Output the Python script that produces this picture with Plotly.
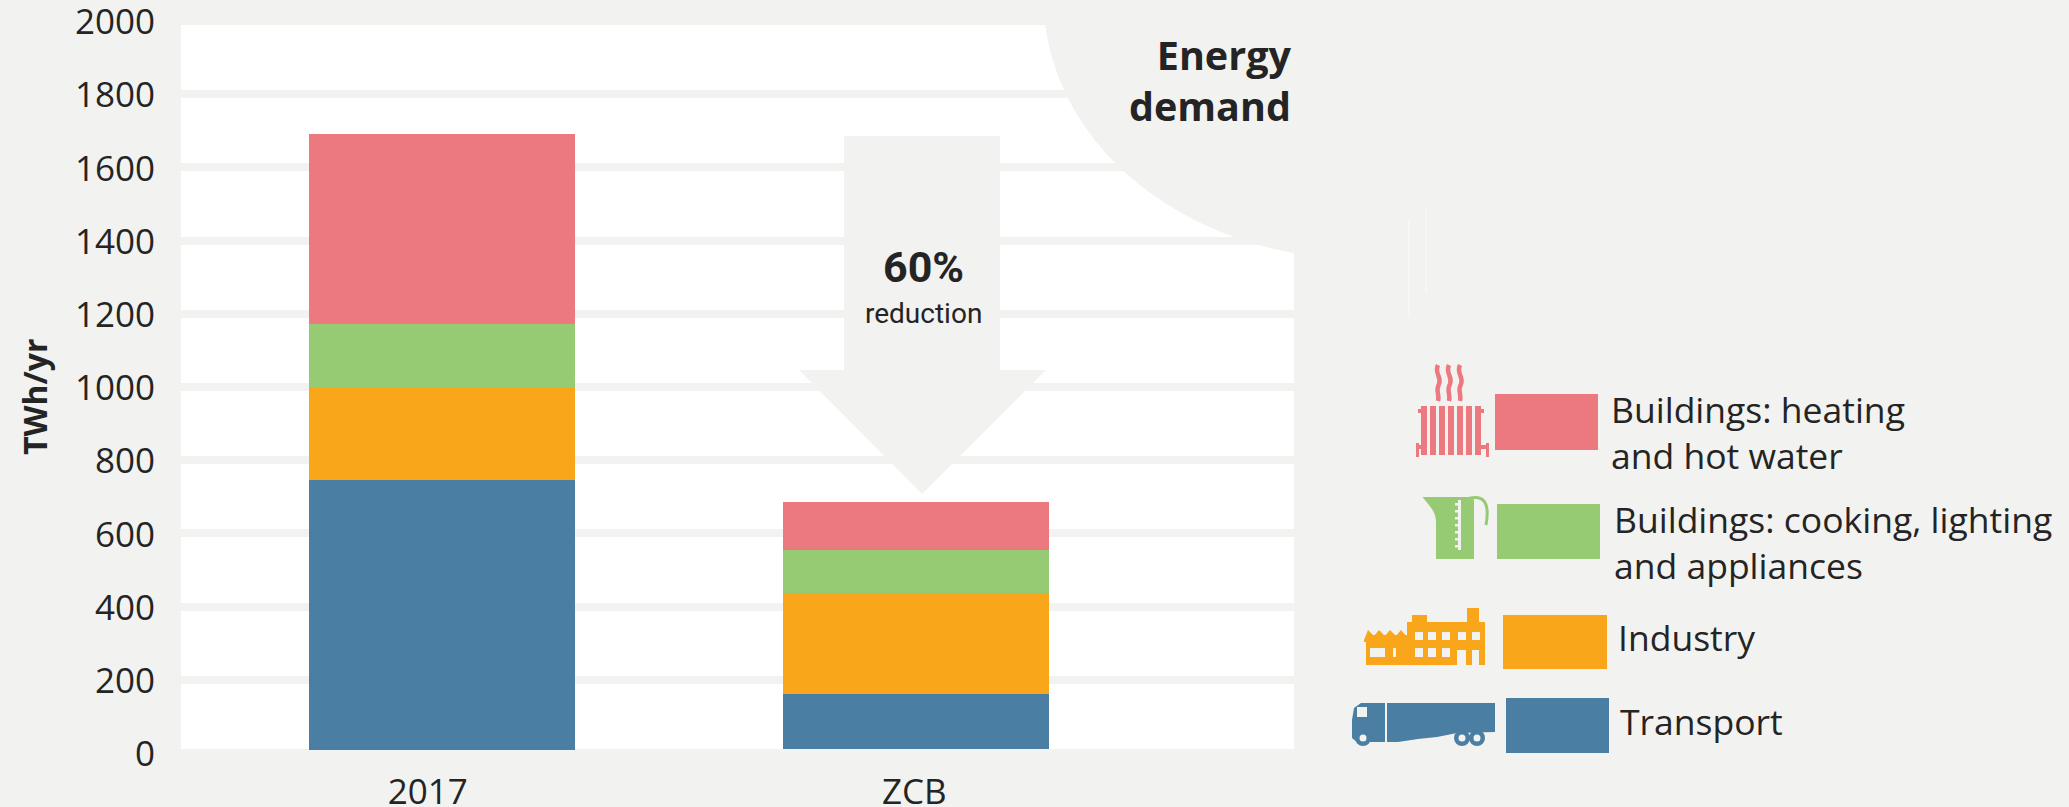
import plotly.graph_objects as go

# ---- data -------------------------------------------------------------
categories = ["2017", "ZCB"]
bar_positions = [0, 1]
category_label_positions = [-0.03, 0.996]
bottom_gap = [8, 12]
transport = [739, 150]
industry = [250, 276]
cooking = [176, 117]
heating = [517, 130]
y_ticks = [0, 200, 400, 600, 800, 1000, 1200, 1400, 1600, 1800, 2000]

series_names = ["Transport", "Industry",
                "Buildings: cooking, lighting and appliances",
                "Buildings: heating and hot water"]
series_colors = ["#4b7ea3", "#f9a61b", "#96cb73", "#ec7880"]
series_values = [transport, industry, cooking, heating]

BG = "#f2f2f0"
INK = "#242424"
W, H = 2069, 807
L, R, T, B = 181, 1294, 21, 753   # plot box in pixels


def px(x):
    return (x - L) / (R - L)


def py(y):
    return (B - y) / (B - T)


def path(points, close=True):
    s = "M" + " L".join(f"{px(x):.5f},{py(y):.5f}" for x, y in points)
    return s + (" Z" if close else "")


def curve(start, *segs):
    s = f"M{px(start[0]):.5f},{py(start[1]):.5f}"
    for seg in segs:
        s += " C" + " ".join(f"{px(x):.5f},{py(y):.5f}" for x, y in seg)
    return s


shapes = []


def poly(points, color):
    shapes.append(dict(type="path", xref="paper", yref="paper", path=path(points),
                       fillcolor=color, line=dict(width=0)))


def rect(x0, y0, x1, y1, color, layer="above"):
    shapes.append(dict(type="rect", xref="paper", yref="paper", layer=layer,
                       x0=px(x0), x1=px(x1), y0=py(y1), y1=py(y0),
                       fillcolor=color, line=dict(width=0)))


def disc(cx, cy, rx, ry, color):
    shapes.append(dict(type="circle", xref="paper", yref="paper",
                       x0=px(cx - rx), x1=px(cx + rx), y0=py(cy + ry), y1=py(cy - ry),
                       fillcolor=color, line=dict(width=0)))


def stroke(d, color, width):
    shapes.append(dict(type="path", xref="paper", yref="paper", path=d,
                       line=dict(color=color, width=width)))


# bands along the top and bottom edge of the plot (the 2000 and 0 gridlines)
rect(L, T, R, 25, BG, layer="below")
rect(L, 749, R, B, BG, layer="below")

# quarter-circle cut-out holding the panel title
shapes.append(dict(type="path", xref="paper", yref="paper",
                   path=curve((1045, 24), ((1062, 150), (1175, 232), (1294, 253)))
                   + " L" + f"{px(1296):.5f},{py(253):.5f}"
                   + " L" + f"{px(1296):.5f},{py(20):.5f}"
                   + " L" + f"{px(1045):.5f},{py(20):.5f} Z",
                   fillcolor=BG, line=dict(width=0)))

# reduction arrow
poly([(844, 136), (1000, 136), (1000, 370), (1046, 370), (922, 494), (799, 370), (844, 370)], BG)

# faint separator lines
stroke(path([(1409, 220), (1409, 318)], close=False), "#fbfbfa", 1)
stroke(path([(1426, 209), (1426, 292)], close=False), "#fbfbfa", 1)

# legend swatches (top to bottom)
swatches = [(1495, 394, 1598, 450, series_colors[3]),
            (1497, 504, 1600, 559, series_colors[2]),
            (1503, 615, 1607, 669, series_colors[1]),
            (1506, 698, 1609, 753, series_colors[0])]
for x0, y0, x1, y1, c in swatches:
    rect(x0, y0, x1, y1, c)

# radiator icon
red = series_colors[3]
for fx in [1424, 1433, 1442, 1451, 1460, 1469, 1478]:
    rect(fx - 3, 406, fx + 3, 455, red)
rect(1416, 443, 1419, 457, red)
rect(1486, 443, 1489, 457, red)
rect(1419, 445, 1421, 449, red)
rect(1481, 445, 1486, 449, red)
rect(1418, 409, 1421, 413, red)
rect(1481, 409, 1484, 413, red)
for wx in [1438, 1449, 1460]:
    stroke(curve((wx, 365), ((wx - 4, 374), (wx + 4, 376), (wx + 1, 384)),
                 ((wx - 3, 391), (wx + 2, 394), (wx, 401))), red, 4.5)

# jug icon
green = series_colors[2]
shapes.append(dict(type="path", xref="paper", yref="paper",
                   path=curve((1422.5, 497), ((1428, 505), (1436, 510), (1436, 522)))
                   + " L" + f"{px(1436):.5f},{py(559):.5f}"
                   + " L" + f"{px(1474):.5f},{py(559):.5f}"
                   + " L" + f"{px(1474):.5f},{py(500):.5f}"
                   + " L" + f"{px(1471):.5f},{py(497):.5f} Z",
                   fillcolor=green, line=dict(width=0)))
stroke(curve((1470, 498), ((1484, 495), (1490, 503), (1486, 525))), green, 3)
rect(1458, 500, 1461, 550, BG)
for ty in range(503, 550, 7):
    rect(1455, ty, 1458, ty + 2.5, BG)

# factory icon
orange = series_colors[1]
rect(1407, 635, 1485, 665, orange)
rect(1366, 635, 1407, 665, orange)
rect(1467, 608, 1479, 625, orange)
rect(1412, 615, 1427, 625, orange)
rect(1407, 622, 1485, 640, orange)
poly([(1364, 640), (1368, 630), (1374, 636), (1379, 630), (1385, 636), (1390, 630),
      (1396, 636), (1401, 630), (1407, 637), (1407, 642), (1364, 642)], orange)
for wx in [1415, 1428, 1442, 1458, 1472]:
    rect(wx, 632, wx + 8, 640, BG)
for wx in [1415, 1428, 1442]:
    rect(wx, 648, wx + 8, 657, BG)
rect(1370, 648, 1385, 657, BG)
rect(1393, 648, 1396, 657, BG)
rect(1457, 650, 1466, 665, BG)
rect(1472, 650, 1479, 665, BG)

# truck icon
blue = series_colors[0]
poly([(1387, 703), (1495, 703), (1495, 732), (1457, 733), (1437, 737), (1418, 739), (1398, 742), (1387, 742)], blue)
poly([(1352, 720), (1354, 708), (1361, 703), (1385, 703), (1385, 742), (1357, 742), (1352, 738)], blue)
rect(1357, 707, 1367, 717, BG)
rect(1385, 703, 1386.5, 730, BG)
for wx in [1363, 1462, 1477]:
    disc(wx, 738, 8, 8, blue)
    disc(wx, 738, 3.5, 3.5, BG)

# ---- figure -----------------------------------------------------------
fig = go.Figure()
base = list(bottom_gap)
for name, color, values in zip(series_names, series_colors, series_values):
    fig.add_trace(go.Bar(x=bar_positions, y=values, base=list(base), name=name,
                         width=0.561, marker=dict(color=color, line=dict(width=0)),
                         showlegend=False))
    base = [b + v for b, v in zip(base, values)]

TEXT = "Open Sans"
NARROW = "Roboto"
annotations = [
    dict(text="TWh/yr", x=px(34), y=py(397), textangle=-90, xanchor="center",
         font=dict(family=TEXT, size=32, color=INK, weight="bold")),
    dict(text="Energy<br>demand", x=px(1292), y=py(81), xanchor="right", align="right",
         font=dict(family=TEXT, size=39.5, color=INK, weight="bold")),
    dict(text="60%", x=px(923), y=py(267), xanchor="center",
         font=dict(family=NARROW, size=43, color=INK, weight="bold")),
    dict(text="reduction", x=px(923), y=py(314), xanchor="center",
         font=dict(family=NARROW, size=28, color=INK)),
    dict(text="Buildings: heating<br>and hot water", x=px(1610), y=py(432), xanchor="left", align="left",
         font=dict(family=TEXT, size=35.5, color=INK)),
    dict(text="Buildings: cooking, lighting<br>and appliances", x=px(1613), y=py(542), xanchor="left", align="left",
         font=dict(family=TEXT, size=35.5, color=INK)),
    dict(text="Industry", x=px(1617), y=py(637), xanchor="left",
         font=dict(family=TEXT, size=35.5, color=INK)),
    dict(text="Transport", x=px(1619), y=py(721), xanchor="left",
         font=dict(family=TEXT, size=35.5, color=INK)),
]
for a in annotations:
    a.update(xref="paper", yref="paper", showarrow=False, yanchor="middle", borderpad=0)

fig.update_layout(
    width=W, height=H,
    margin=dict(l=L, r=W - R, t=T, b=H - B, pad=0, autoexpand=False),
    paper_bgcolor=BG, plot_bgcolor="white",
    barmode="overlay", bargap=0,
    shapes=shapes, annotations=annotations,
    font=dict(family=TEXT, color=INK, size=35),
    xaxis=dict(range=[-0.5506, 1.797], tickmode="array", automargin=False,
               tickvals=category_label_positions, ticktext=categories,
               showgrid=False, zeroline=False, showline=False, ticklabeloverflow="allow",
               ticks="outside", ticklen=8, tickcolor="rgba(0,0,0,0)", fixedrange=True),
    yaxis=dict(range=[0, 2000], tickmode="array", tickvals=y_ticks, automargin=False,
               showgrid=True, gridcolor=BG, gridwidth=8, zeroline=False, showline=False,
               ticklabeloverflow="allow",
               ticks="", ticklabelstandoff=25, ticklabelshift=1, fixedrange=True),
)

fig.write_html("out.html", config=dict(displayModeBar=False),
               post_script="document.body.style.margin='0';document.body.style.overflow='hidden';")
